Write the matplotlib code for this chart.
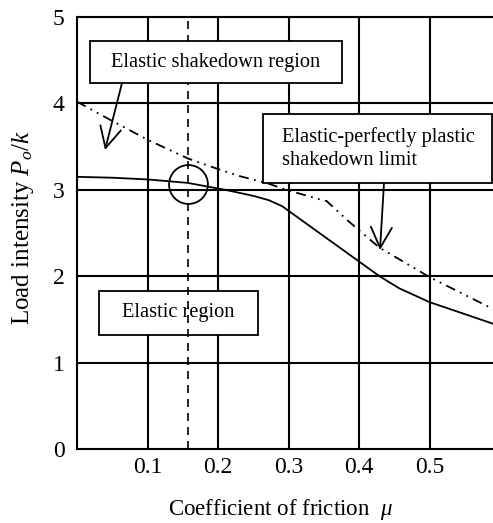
import matplotlib
matplotlib.use("Agg")
import matplotlib.pyplot as plt
from matplotlib.patches import Rectangle, FancyArrowPatch

plt.rcParams['font.family'] = ['Liberation Serif', 'DejaVu Serif']
plt.rcParams['mathtext.fontset'] = 'custom'
plt.rcParams['mathtext.rm'] = 'Liberation Serif'
plt.rcParams['mathtext.it'] = 'Liberation Serif:italic'

# Data
mu_elastic = [0.0, 0.05, 0.10, 0.157, 0.21, 0.25, 0.272, 0.291, 0.429, 0.457, 0.50, 0.59]
p_elastic = [3.15, 3.14, 3.12, 3.08, 3.00, 2.93, 2.88, 2.81, 2.00, 1.86, 1.70, 1.45]

mu_plastic = [0.0, 0.047, 0.10, 0.158, 0.20, 0.23, 0.272, 0.297, 0.348, 0.354, 0.386, 0.429, 0.50, 0.59]
p_plastic = [4.02, 3.81, 3.58, 3.36, 3.24, 3.16, 3.07, 3.00, 2.88, 2.87, 2.63, 2.33, 1.99, 1.62]

mu_mark = 0.157
p_mark = 3.07

xticks = [0.1, 0.2, 0.3, 0.4, 0.5]
xticklabels = ["0.1", "0.2", "0.3", "0.4", "0.5"]
yticks = [0, 1, 2, 3, 4, 5]
yticklabels = ["0", "1", "2", "3", "4", "5"]

fig = plt.figure(figsize=(4.93, 5.23), dpi=100)
ax = fig.add_axes([77/493, 74/523, 416/493, 432/523])
ax.set_xlim(0, 0.59)
ax.set_ylim(0, 5)

for x in xticks:
    ax.axvline(x, color='black', lw=1.5, zorder=1)
for y in yticks[1:]:
    ax.axhline(y, color='black', lw=1.5, zorder=1)

ax.spines['right'].set_visible(False)
for s in ['left', 'bottom', 'top']:
    ax.spines[s].set_linewidth(1.5)

ax.set_xticks(xticks)
ax.set_xticklabels(xticklabels, fontsize=17)
ax.set_yticks(yticks)
ax.set_yticklabels(yticklabels, fontsize=17)
ax.tick_params(axis='x', length=0, pad=6)
ax.tick_params(axis='y', length=0, pad=9)

ax.plot(mu_elastic, p_elastic, color='black', lw=1.3, zorder=6)
ax.plot(mu_plastic, p_plastic, color='black', lw=1.3, dashes=(5.5, 3, 1, 3, 1, 3), zorder=6)
ax.axvline(mu_mark, color='black', lw=1.2, dashes=(4.8, 3.6), zorder=4)
ax.plot([mu_mark], [p_mark], marker='o', markersize=28, markerfacecolor='none',
        markeredgecolor='black', markeredgewidth=1.3, zorder=7)

# Boxes
def box(x0, y0, x1, y1, z):
    r = Rectangle((x0, y0), x1 - x0, y1 - y0, transform=ax.transAxes,
                  facecolor='white', edgecolor='black', lw=1.3, zorder=z, clip_on=False)
    ax.add_patch(r)

box(0.031, 0.847, 0.637, 0.944, 8)
ax.text(0.334, 0.8955, "Elastic shakedown region", transform=ax.transAxes,
        ha='center', va='center', fontsize=14.7, zorder=9)

box(0.447, 0.616, 0.998, 0.775, 8)
ax.text(0.493, 0.6955, "Elastic-perfectly plastic\nshakedown limit", transform=ax.transAxes,
        ha='left', va='center', fontsize=14.7, zorder=9, linespacing=1.3)

box(0.053, 0.264, 0.435, 0.366, 3)
ax.text(0.244, 0.315, "Elastic region", transform=ax.transAxes,
        ha='center', va='center', fontsize=14.7, zorder=9)

# Arrows
def arrow(p0, p1):
    a = FancyArrowPatch(p0, p1, transform=ax.transAxes, arrowstyle='->,head_length=0.75,head_width=0.38',
                        mutation_scale=20, lw=1.3, color='black', zorder=9, shrinkA=0, shrinkB=0)
    ax.add_patch(a)

arrow(((122-77)/416, (449-83)/432), ((105-77)/416, (449-150)/432))
arrow(((384-77)/416, (449-183)/432), ((380-77)/416, (449-250)/432))

fig.text(280/493, 1 - 509/523, r"Coefficient of friction  $\mu$", ha='center', va='center', fontsize=16.5)
fig.text(23/493, 1 - 227/523, r"Load intensity $P_o/k$", ha='center', va='center', fontsize=18, rotation=90)

fig.savefig("out.png", dpi=100)
